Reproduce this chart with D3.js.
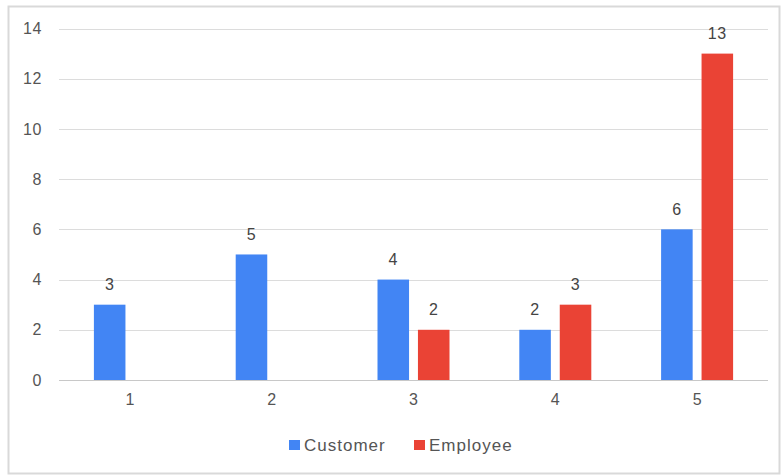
<!DOCTYPE html>
<html>
<head>
<meta charset="utf-8">
<script src="https://cdn.jsdelivr.net/npm/d3@7/dist/d3.min.js"></script>
<style>
  html, body { margin: 0; padding: 0; background: #fff; }
  svg { display: block; font-family: "Liberation Sans", Arial, sans-serif; }
</style>
</head>
<body>
<svg id="chart" width="781" height="475"></svg>
<script>
const categories = ["1", "2", "3", "4", "5"];
const seriesNames = ["Customer", "Employee"];
const customerValues = [3, 5, 4, 2, 6];
const employeeValues = [null, null, 2, 3, 13];
const yTicks = [0, 2, 4, 6, 8, 10, 12, 14];
const colors = ["#4285F4", "#EA4335"];

const svg = d3.select("#chart");

svg.append("rect")
  .attr("x", 8.5).attr("y", 6.5).attr("width", 771).attr("height", 467)
  .attr("fill", "#fff").attr("stroke", "#d9d9d9").attr("stroke-width", 2);

const plot = { left: 59, right: 768, top: 28.5, bottom: 380 };

const x = d3.scaleBand().domain(categories).range([plot.left, plot.right]);
const inner = d3.scaleBand().domain(seriesNames).range([-36, 36]).paddingInner(0.22);
const y = d3.scaleLinear().domain([0, 14]).range([plot.bottom, plot.top]);

// gridlines
svg.append("g").selectAll("line").data(yTicks).join("line")
  .attr("x1", plot.left).attr("x2", plot.right)
  .attr("y1", d => Math.round(y(d)) + 0.5).attr("y2", d => Math.round(y(d)) + 0.5)
  .attr("stroke", d => d === 0 ? "#c8c8c8" : "#dcdcdc").attr("stroke-width", 1.2);

// y axis labels
const yAxis = d3.axisLeft(y).tickValues(yTicks).tickSize(0).tickPadding(0);
const yg = svg.append("g").attr("transform", `translate(${plot.left - 17},0)`).call(yAxis);
yg.select(".domain").remove();
yg.selectAll("text").attr("fill", "#555").style("font-size", "16px")
  .style("letter-spacing", "0.6px")
  .style("font-family", "Liberation Sans, Arial, sans-serif");

// x axis labels
const xAxis = d3.axisBottom(x).tickSize(0).tickPadding(0);
const xg = svg.append("g").attr("transform", `translate(0,${plot.bottom + 14})`).call(xAxis);
xg.select(".domain").remove();
xg.selectAll("text").attr("fill", "#555").style("font-size", "16px")
  .style("font-family", "Liberation Sans, Arial, sans-serif");

const data = categories.map((c, i) => ({
  cat: c,
  vals: [
    { s: seriesNames[0], v: customerValues[i], ci: 0 },
    { s: seriesNames[1], v: employeeValues[i], ci: 1 }
  ]
}));

const groups = svg.append("g").selectAll("g").data(data).join("g")
  .attr("transform", d => `translate(${x(d.cat) + x.bandwidth() / 2},0)`);

groups.selectAll("rect").data(d => d.vals.filter(e => e.v != null)).join("rect")
  .attr("x", d => inner(d.s))
  .attr("width", inner.bandwidth())
  .attr("y", d => y(d.v))
  .attr("height", d => y(0) - y(d.v))
  .attr("fill", d => colors[d.ci]);

groups.selectAll("text").data(d => d.vals.filter(e => e.v != null)).join("text")
  .attr("x", d => inner(d.s) + inner.bandwidth() / 2)
  .attr("y", d => y(d.v) - 14.5)
  .attr("text-anchor", "middle")
  .attr("fill", "#444")
  .style("font-size", "16px")
  .style("letter-spacing", "0.6px")
  .text(d => d.v);

// legend
const legendItems = [
  { name: seriesNames[0], color: colors[0], x: 289 },
  { name: seriesNames[1], color: colors[1], x: 414 }
];
const lg = svg.append("g").selectAll("g").data(legendItems).join("g")
  .attr("transform", d => `translate(${d.x},445)`);
lg.append("rect").attr("x", 0).attr("y", -5).attr("width", 11).attr("height", 10)
  .attr("fill", d => d.color);
lg.append("text").attr("x", 15).attr("y", 5.5).attr("fill", "#555")
  .style("font-size", "17px").style("letter-spacing", "1px").text(d => d.name);
</script>
</body>
</html>
